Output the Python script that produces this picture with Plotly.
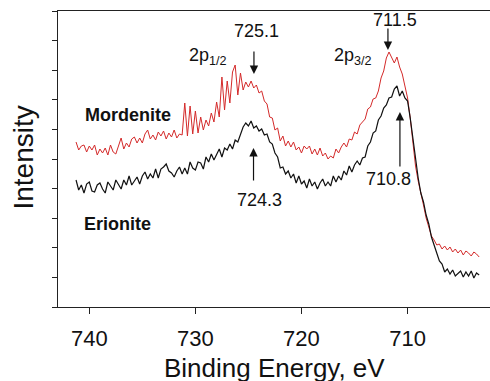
import plotly.graph_objects as go

# Binding energy grid (eV)
energy = [
    741.25, 741.0, 740.75, 740.5, 740.25, 740.0, 739.75, 739.5, 739.25, 739.0,
    738.75, 738.5, 738.25, 738.0, 737.75, 737.5, 737.25, 737.0, 736.75, 736.5,
    736.25, 736.0, 735.75, 735.5, 735.25, 735.0, 734.75, 734.5, 734.25, 734.0,
    733.75, 733.5, 733.25, 733.0, 732.75, 732.5, 732.25, 732.0, 731.75, 731.5,
    731.25, 731.0, 730.75, 730.5, 730.25, 730.0, 729.75, 729.5, 729.25, 729.0,
    728.75, 728.5, 728.25, 728.0, 727.75, 727.5, 727.25, 727.0, 726.75, 726.5,
    726.25, 726.0, 725.75, 725.5, 725.25, 725.0, 724.75, 724.5, 724.25, 724.0,
    723.75, 723.5, 723.25, 723.0, 722.75, 722.5, 722.25, 722.0, 721.75, 721.5,
    721.25, 721.0, 720.75, 720.5, 720.25, 720.0, 719.75, 719.5, 719.25, 719.0,
    718.75, 718.5, 718.25, 718.0, 717.75, 717.5, 717.25, 717.0, 716.75, 716.5,
    716.25, 716.0, 715.75, 715.5, 715.25, 715.0, 714.75, 714.5, 714.25, 714.0,
    713.75, 713.5, 713.25, 713.0, 712.75, 712.5, 712.25, 712.0, 711.75, 711.5,
    711.25, 711.0, 710.75, 710.5, 710.25, 710.0, 709.75, 709.5, 709.25, 709.0,
    708.75, 708.5, 708.25, 708.0, 707.75, 707.5, 707.25, 707.0, 706.75, 706.5,
    706.25, 706.0, 705.75, 705.5, 705.25, 705.0, 704.75, 704.5, 704.25, 704.0,
    703.75, 703.5, 703.25,
]

# Mordenite (red) intensity, arbitrary units
mordenite = [
    165, 157, 161, 162, 155, 161, 157, 162, 152, 158,
    154, 159, 152, 162, 155, 153, 161, 169, 158, 164,
    160, 168, 170, 164, 169, 164, 173, 177, 168, 172,
    167, 175, 171, 176, 168, 174, 170, 177, 169, 173,
    172, 204, 171, 201, 173, 196, 174, 190, 177, 187,
    181, 194, 185, 205, 190, 230, 197, 226, 204, 235,
    242, 212, 234, 217, 225, 220, 226, 219, 222, 214,
    216, 206, 203, 190, 189, 177, 179, 166, 171, 161,
    166, 160, 165, 157, 160, 154, 161, 158, 161, 153,
    158, 152, 159, 151, 154, 148, 151, 149, 158, 154,
    160, 164, 160, 168, 167, 175, 173, 182, 185, 188,
    198, 200, 208, 209, 216, 229, 236, 249, 255, 249,
    244, 250, 240, 233, 221, 209, 189, 166, 141, 126,
    112, 102, 89, 80, 71, 67, 62, 63, 58, 61,
    57, 60, 55, 58, 54, 57, 52, 56, 54, 51,
    55, 53, 50,
]

# Erionite (black) intensity, arbitrary units
erionite = [
    127, 117, 122, 114, 123, 125, 116, 115, 122, 124,
    118, 114, 125, 121, 117, 127, 123, 118, 127, 122,
    131, 122, 126, 130, 123, 131, 135, 128, 133, 129,
    138, 129, 138, 140, 143, 136, 134, 130, 136, 140,
    133, 139, 133, 145, 139, 137, 145, 144, 138, 150,
    145, 153, 147, 152, 158, 150, 159, 157, 163, 158,
    167, 165, 172, 180, 184, 181, 186, 179, 181, 176,
    178, 172, 173, 165, 163, 154, 150, 139, 140, 133,
    136, 129, 133, 124, 131, 123, 126, 119, 128, 121,
    125, 118, 124, 128, 121, 125, 121, 131, 125, 131,
    127, 136, 132, 141, 135, 142, 146, 142, 149, 150,
    161, 165, 174, 176, 187, 191, 199, 202, 209, 210,
    218, 221, 211, 216, 209, 206, 189, 169, 146, 129,
    114, 105, 92, 83, 70, 63, 54, 46, 43, 35,
    38, 33, 37, 31, 34, 36, 30, 35, 31, 36,
    29, 34, 32,
]

x_ticks = [740, 730, 720, 710]
x_labels = ["740", "730", "720", "710"]

FONT = "Liberation Sans, Arial, Helvetica, sans-serif"

fig = go.Figure()
fig.add_trace(go.Scatter(x=energy, y=mordenite, mode="lines", name="Mordenite",
                         line=dict(color="#d42a2a", width=1)))
fig.add_trace(go.Scatter(x=energy, y=erionite, mode="lines", name="Erionite",
                         line=dict(color="#111111", width=1.2)))

ann = []
def txt(t, x, y, size=18, bold=False, xanchor="center", angle=0):
    ann.append(dict(text=("<b>%s</b>" % t) if bold else t, x=x, y=y, xref="paper", yref="paper",
                    xanchor=xanchor, yanchor="middle", showarrow=False, textangle=angle,
                    font=dict(family=FONT, size=size, color="#111")))

txt("Binding Energy, eV", 0.502, -0.206, size=26)
txt("Intensity", -0.0787, 0.505, size=28, angle=-90)
txt("Mordenite", 0.161, 0.649, bold=True)
txt("Erionite", 0.1366, 0.279, bold=True)
txt("2p<sub>1/2</sub>", 0.2986, 0.845, xanchor="left")
txt("2p<sub>3/2</sub>", 0.634, 0.845, xanchor="left")
txt("725.1", 0.4606, 0.932)
txt("711.5", 0.780, 0.970)
txt("724.3", 0.4664, 0.3615)
txt("710.8", 0.7639, 0.434)

def arrow(x, y, ay):
    ann.append(dict(x=x, y=y, xref="x", yref="y", ax=0, ay=ay, text="", showarrow=True,
                    arrowhead=2, arrowsize=1.4, arrowwidth=1.2, arrowcolor="#111", standoff=0))

arrow(724.48, 233, -24)
arrow(711.85, 257, -23)
arrow(724.52, 159, 34)
arrow(710.72, 195, 56)

fig.update_layout(
    width=490, height=381,
    margin=dict(l=58, r=0, t=11, b=74),
    paper_bgcolor="white", plot_bgcolor="white",
    showlegend=False,
    annotations=ann,
    xaxis=dict(range=[742.95, 702.23], tickvals=x_ticks, ticktext=x_labels,
               ticks="outside", ticklen=6, tickwidth=1.3, tickcolor="#222",
               ticklabelstandoff=5,
               showline=True, linecolor="#222", linewidth=1.3, mirror=True,
               showgrid=False, zeroline=False,
               tickfont=dict(family=FONT, size=22, color="#111")),
    yaxis=dict(range=[0, 296], tick0=0, dtick=29.6, showticklabels=False,
               ticks="outside", ticklen=5, tickwidth=1.3, tickcolor="#222",
               showline=True, linecolor="#222", linewidth=1.3, mirror=False,
               showgrid=False, zeroline=False),
)

fig.write_html("out.html", config={"displayModeBar": False},
               post_script="document.body.style.margin='0px';document.body.style.overflow='hidden';")
